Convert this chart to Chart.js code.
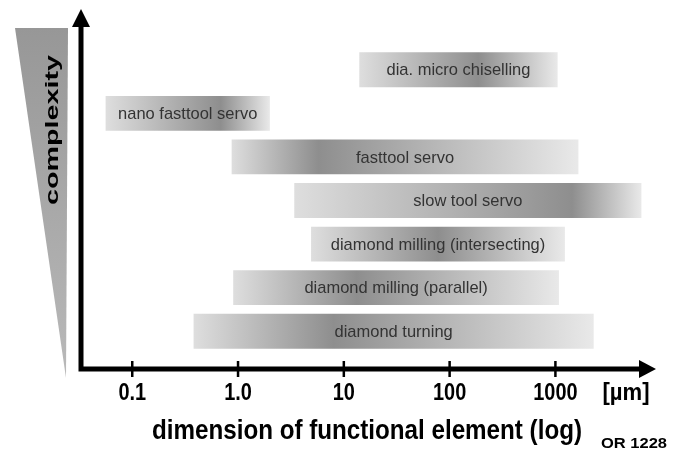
<!DOCTYPE html>
<html lang="en">
<head>
  <meta charset="UTF-8" />
  <title>Functional element dimension vs complexity</title>
  <script src="https://cdn.jsdelivr.net/npm/chart.js"></script>
  <style>
    body { margin: 0; background: #fff; }
    canvas { display: block; }
  </style>
</head>
<body>
  <canvas id="procChart" width="685" height="450"></canvas>

  <script>
    // processes, top (most complex) to bottom
    const categories = [
      'dia. micro chiselling',
      'nano fasttool servo',
      'fasttool servo',
      'slow tool servo',
      'diamond milling (intersecting)',
      'diamond milling (parallel)',
      'diamond turning'
    ];
    // size range of the functional element, in µm
    const rangeStart = [14, 0.056, 0.87, 3.4, 4.9, 0.9, 0.38];
    const rangeEnd = [1050, 2.0, 1650, 6500, 1230, 1080, 2300];

    const tickValues = [0.1, 1, 10, 100, 1000];
    const tickLabels = ['0.1', '1.0', '10', '100', '1000'];

    // where the grey shading of each bar is darkest (0 = left end, 1 = right end)
    const shadePeak = [0.6, 0.7, 0.25, 0.8, 0.5, 0.38, 0.35];

    const FONT = "'Liberation Sans', Arial, sans-serif";

    function drawText(ctx, text, x, y, font, opts) {
      opts = opts || {};
      ctx.save();
      ctx.font = font;
      ctx.fillStyle = opts.color || '#000';
      ctx.textAlign = opts.align || 'center';
      ctx.textBaseline = opts.baseline || 'alphabetic';
      const w = ctx.measureText(text).width;
      const sx = opts.width ? opts.width / w : (opts.sx || 1);
      ctx.translate(x, y);
      if (opts.rotate) ctx.rotate(opts.rotate);
      ctx.scale(sx, 1);
      ctx.fillText(text, 0, 0);
      ctx.restore();
    }

    const decorations = {
      id: 'decorations',
      afterDatasetsDraw(chart) {
        const ctx = chart.ctx;
        const meta = chart.getDatasetMeta(0);
        meta.data.forEach((bar, i) => {
          const cx = (bar.x + bar.base) / 2;
          drawText(ctx, categories[i], cx, bar.y + 1, '17px ' + FONT,
            { color: '#333', baseline: 'middle', sx: 0.97 });
        });
      },
      afterDraw(chart) {
        const ctx = chart.ctx;
        const xs = chart.scales.x;
        const area = chart.chartArea;
        const axisX = area.left - 1;
        const axisY = area.bottom + 16;

        // complexity wedge
        ctx.save();
        const g = ctx.createLinearGradient(0, 28, 0, 378);
        g.addColorStop(0, '#979797');
        g.addColorStop(1, '#b9b9b9');
        ctx.fillStyle = g;
        ctx.beginPath();
        ctx.moveTo(15, 28);
        ctx.lineTo(68, 28);
        ctx.lineTo(66, 378);
        ctx.closePath();
        ctx.fill();
        ctx.restore();
        drawText(ctx, 'complexity', 53, 130, 'bold 19px ' + FONT,
          { baseline: 'middle', rotate: -Math.PI / 2, width: 150 });

        // axes with arrow heads
        ctx.save();
        ctx.strokeStyle = '#000';
        ctx.fillStyle = '#000';
        ctx.lineWidth = 5;
        ctx.beginPath();
        ctx.moveTo(axisX, axisY + 2.5);
        ctx.lineTo(axisX, 24);
        ctx.moveTo(axisX - 2.5, axisY);
        ctx.lineTo(642, axisY);
        ctx.stroke();
        ctx.beginPath();
        ctx.moveTo(axisX, 9);
        ctx.lineTo(axisX + 9, 27);
        ctx.lineTo(axisX - 9, 27);
        ctx.closePath();
        ctx.fill();
        ctx.beginPath();
        ctx.moveTo(656, axisY);
        ctx.lineTo(639, axisY - 9);
        ctx.lineTo(639, axisY + 9);
        ctx.closePath();
        ctx.fill();

        // ticks and their labels
        ctx.lineWidth = 2.5;
        tickValues.forEach((v, i) => {
          const px = xs.getPixelForValue(v);
          ctx.beginPath();
          ctx.moveTo(px, axisY - 8);
          ctx.lineTo(px, axisY + 8);
          ctx.stroke();
          drawText(ctx, tickLabels[i], px, 400, 'bold 24px ' + FONT, { sx: 0.83 });
        });
        ctx.restore();

        drawText(ctx, '[µm]', 626, 400, 'bold 24px ' + FONT, { width: 47 });
        drawText(ctx, 'dimension of functional element (log)', 367, 439,
          'bold 28px ' + FONT, { width: 430 });
        drawText(ctx, 'OR 1228', 634, 448, 'bold 15px ' + FONT, { width: 66 });
      }
    };

    const ctx = document.getElementById('procChart').getContext('2d');
    new Chart(ctx, {
      type: 'bar',
      data: {
        labels: categories,
        datasets: [{
          data: categories.map((c, i) => [rangeStart[i], rangeEnd[i]]),
          borderWidth: 0,
          categoryPercentage: 1,
          barPercentage: 0.8,
          backgroundColor: function(context) {
            const chart = context.chart;
            const xs = chart.scales.x;
            const i = context.dataIndex;
            if (!xs || i === undefined) return '#bbb';
            const a = xs.getPixelForValue(rangeStart[i]);
            const b = xs.getPixelForValue(rangeEnd[i]);
            if (!isFinite(a) || !isFinite(b) || a === b) return '#bbb';
            const grad = chart.ctx.createLinearGradient(a, 0, b, 0);
            grad.addColorStop(0, '#dedede');
            grad.addColorStop(shadePeak[i], '#8e8e8e');
            grad.addColorStop(1, '#e9e9e9');
            return grad;
          }
        }]
      },
      options: {
        indexAxis: 'y',
        responsive: false,
        animation: false,
        layout: { padding: { left: 82, right: 31, top: 48, bottom: 97 } },
        plugins: {
          legend: { display: false },
          tooltip: { enabled: false }
        },
        scales: {
          x: { type: 'logarithmic', min: 0.0335, max: 8550, display: false },
          y: { type: 'category', display: false }
        }
      },
      plugins: [decorations]
    });
  </script>
</body>
</html>
